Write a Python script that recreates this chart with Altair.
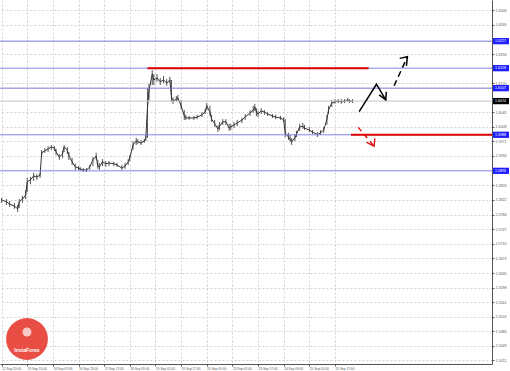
import altair as alt
import pandas as pd

# ---------------- data (hourly bars, GBP/USD style chart) ----------------
bar_idx = [0, 3, 5, 8, 10, 11, 13, 15, 16, 18, 20, 22, 24,
           25, 27, 29, 31, 33, 34, 36, 38, 39, 41, 42, 44, 46, 48, 49, 51, 53, 55, 57, 59, 60, 61, 63, 65,
           67, 70, 72, 75, 77, 79, 80, 82, 84, 85, 87, 89, 90,
           91, 92, 94, 95, 97, 99, 101, 103, 105, 106, 107, 109, 110, 112, 114, 115, 117, 120, 122, 125,
           127, 128, 130, 131, 133, 135, 136, 138, 140, 142, 143, 145, 147, 150, 152, 155, 157, 158, 159,
           160, 162, 164, 166, 169, 171, 174, 176, 177, 179, 180, 181, 183, 184, 186, 188, 189, 192, 194,
           197, 199, 201, 203, 204, 206, 208, 210, 212, 214, 216, 217, 219]
close = [1.5822, 1.5817, 1.5811, 1.5806, 1.5799, 1.5817, 1.5824, 1.5834, 1.5868, 1.5873, 1.5883, 1.5880, 1.5885,
         1.5942, 1.5947, 1.5952, 1.5957, 1.5954, 1.5944, 1.5931, 1.5939, 1.5957, 1.5949, 1.5934, 1.5919, 1.5906,
         1.5903, 1.5901, 1.5898, 1.5898, 1.5906, 1.5924, 1.5934, 1.5908, 1.5906, 1.5919, 1.5914,
         1.5916, 1.5914, 1.5911, 1.5903, 1.5908, 1.5919, 1.5929, 1.5962, 1.5972, 1.5970, 1.5967, 1.5972, 1.5980,
         1.6056, 1.6102, 1.6143, 1.6128, 1.6133, 1.6123, 1.6128, 1.6120, 1.6128, 1.6082, 1.6074, 1.6079, 1.6082,
         1.6062, 1.6036, 1.6031, 1.6031, 1.6031, 1.6033, 1.6039,
         1.6046, 1.6062, 1.6046, 1.6028, 1.6016, 1.6003, 1.6010, 1.6021, 1.6021, 1.6005, 1.6008, 1.6013, 1.6018,
         1.6026, 1.6033, 1.6044, 1.6051, 1.6059, 1.6046,
         1.6041, 1.6049, 1.6046, 1.6041, 1.6036, 1.6033, 1.6031, 1.6026, 1.5993, 1.5982, 1.5977, 1.5970, 1.5980,
         1.5990, 1.6008, 1.6010, 1.6005, 1.6000, 1.5995,
         1.5988, 1.5993, 1.6000, 1.6028, 1.6051, 1.6069, 1.6072, 1.6074, 1.6072, 1.6074, 1.6077, 1.6074, 1.6074]
high = [1.5827, 1.5824, 1.5819, 1.5814, 1.5809, 1.5824, 1.5832, 1.5847, 1.5878, 1.5880, 1.5891, 1.5888, 1.5891,
        1.5949, 1.5954, 1.5959, 1.5962, 1.5959, 1.5952, 1.5939, 1.5947, 1.5962, 1.5957, 1.5944, 1.5929, 1.5914,
        1.5908, 1.5906, 1.5903, 1.5903, 1.5911, 1.5931, 1.5942, 1.5924, 1.5916, 1.5926, 1.5921,
        1.5921, 1.5919, 1.5916, 1.5911, 1.5916, 1.5926, 1.5936, 1.5972, 1.5980, 1.5977, 1.5975, 1.5977, 1.5990,
        1.6107, 1.6118, 1.6153, 1.6143, 1.6143, 1.6133, 1.6138, 1.6130, 1.6136, 1.6128, 1.6084, 1.6087, 1.6090,
        1.6077, 1.6051, 1.6039, 1.6036, 1.6036, 1.6039, 1.6046,
        1.6054, 1.6069, 1.6062, 1.6039, 1.6026, 1.6013, 1.6021, 1.6028, 1.6028, 1.6016, 1.6016, 1.6021, 1.6026,
        1.6031, 1.6041, 1.6051, 1.6062, 1.6067, 1.6056,
        1.6049, 1.6056, 1.6051, 1.6046, 1.6041, 1.6039, 1.6036, 1.6033, 1.6028, 1.5993, 1.5988, 1.5980, 1.5990,
        1.5998, 1.6016, 1.6018, 1.6013, 1.6008, 1.6000,
        1.5995, 1.6000, 1.6008, 1.6039, 1.6062, 1.6077, 1.6079, 1.6079, 1.6079, 1.6079, 1.6082, 1.6079, 1.6079]
low = [1.5814, 1.5809, 1.5804, 1.5799, 1.5791, 1.5801, 1.5814, 1.5824, 1.5842, 1.5862, 1.5870, 1.5873, 1.5878,
       1.5934, 1.5942, 1.5944, 1.5949, 1.5947, 1.5936, 1.5924, 1.5929, 1.5944, 1.5939, 1.5924, 1.5911, 1.5898,
       1.5898, 1.5896, 1.5893, 1.5893, 1.5898, 1.5908, 1.5924, 1.5901, 1.5898, 1.5908, 1.5906,
       1.5908, 1.5908, 1.5906, 1.5898, 1.5901, 1.5911, 1.5921, 1.5949, 1.5962, 1.5965, 1.5962, 1.5967, 1.5972,
       1.5980, 1.6077, 1.6115, 1.6115, 1.6123, 1.6115, 1.6120, 1.6113, 1.6120, 1.6072, 1.6067, 1.6072, 1.6074,
       1.6054, 1.6026, 1.6026, 1.6026, 1.6026, 1.6028, 1.6033,
       1.6041, 1.6051, 1.6036, 1.6021, 1.6008, 1.5995, 1.6000, 1.6013, 1.6013, 1.5998, 1.6000, 1.6005, 1.6010,
       1.6018, 1.6026, 1.6036, 1.6044, 1.6049, 1.6036,
       1.6033, 1.6041, 1.6039, 1.6036, 1.6031, 1.6028, 1.6026, 1.6021, 1.5982, 1.5975, 1.5970, 1.5962, 1.5972,
       1.5982, 1.5998, 1.6003, 1.6000, 1.5995, 1.5990,
       1.5982, 1.5988, 1.5993, 1.6013, 1.6041, 1.6059, 1.6067, 1.6069, 1.6067, 1.6069, 1.6072, 1.6069, 1.6069]

x_tick_values = [0, 16, 32, 48, 64, 80, 96, 112, 128, 144, 160, 176, 192, 208]
x_tick_labels = ["12 Sep 23:00", "13 Sep 15:00", "16 Sep 07:00", "16 Sep 23:00", "17 Sep 17:00",
                 "18 Sep 09:00", "19 Sep 01:00", "19 Sep 17:00", "20 Sep 09:00", "23 Sep 01:00",
                 "23 Sep 17:00", "24 Sep 09:00", "25 Sep 01:00", "25 Sep 17:00"]
y_tick_values = [1.6306, 1.6269, 1.6194, 1.6120, 1.6045, 1.6008, 1.5971, 1.5934,
                 1.5859, 1.5822, 1.5784, 1.5747, 1.5710, 1.5673, 1.5635, 1.5598, 1.5561, 1.5524,
                 1.5486, 1.5449, 1.5412]

level_prices = [1.6227, 1.6158, 1.6107, 1.5988, 1.5896]
level_colors = ["#7a7ad8", "#8484ee", "#7a7ad8", "#8484ee", "#8484ee"]
current_price = 1.6074
red_start = [91, 218]
red_end = [229, 306]
red_price = [1.6158, 1.5988]

# scenario arrows (bar index, price)
solid_x = [223.1, 233.9, 239.7]
solid_p = [1.6047, 1.6117, 1.6077]
solid_head_x = [235.6, 239.7, 240.1]
solid_head_p = [1.6090, 1.6077, 1.6098]
dash_x = [244.9, 253.2]
dash_p = [1.6113, 1.6187]
dash_head_x = [248.4, 253.2, 252.6]
dash_head_p = [1.6183, 1.6187, 1.6164]
red_dash_x = [222.5, 232.4]
red_dash_p = [1.6007, 1.5959]
red_head_x = [227.6, 232.4, 232.9]
red_head_p = [1.5969, 1.5959, 1.5979]

# ---------------- chart ----------------
W, H = 492, 364
X_DOMAIN = [-1, 306]
Y_DOMAIN = [1.5403, 1.6332]

label_expr = "[" + ",".join("'%s'" % s for s in x_tick_labels) + "][round(datum.value/16)]"

x_axis = alt.Axis(values=x_tick_values, labelExpr=label_expr, grid=True, gridDash=[2, 2],
                  gridColor="#d2d2d2", gridWidth=1, labelFontSize=3.2, labelFont="Liberation Sans",
                  labelColor="#555555", labelAlign="left", labelBaseline="top", labelPadding=0,
                  tickSize=2, tickColor="#555555", domainColor="#555555", labelOverlap=False,
                  labelFlush=False, title=None)
y_axis = alt.Axis(values=y_tick_values, format=".4f", orient="right", grid=True, gridDash=[2, 2],
                  gridColor="#d2d2d2", gridWidth=1, labelFontSize=3.6, labelFont="Liberation Sans",
                  labelColor="#555555", labelPadding=1, tickSize=2, tickColor="#555555",
                  domainColor="#555555", labelOverlap=False, labelFlush=False, title=None)


def X(field):
    return alt.X(field, type="quantitative", scale=alt.Scale(domain=X_DOMAIN, nice=False, zero=False),
                 axis=x_axis)


def Y(field):
    return alt.Y(field, type="quantitative", scale=alt.Scale(domain=Y_DOMAIN, nice=False, zero=False),
                 axis=y_axis)


bars_df = pd.DataFrame({"b": bar_idx, "c": close, "h": high, "l": low})

bar_rules = alt.Chart(bars_df).mark_rule(strokeWidth=1, color="#555555").encode(
    x=X("b"), y=Y("l"), y2="h")
close_line = alt.Chart(bars_df).mark_line(strokeWidth=1, color="#333333").encode(
    x=X("b"), y=Y("c"))

levels_df = pd.DataFrame({"p": level_prices, "col": level_colors})
level_rules = alt.Chart(levels_df).mark_rule(strokeWidth=1).encode(
    y=Y("p"), color=alt.Color("col:N", scale=None))

cur_df = pd.DataFrame({"p": [current_price]})
cur_rule = alt.Chart(cur_df).mark_rule(color="#c4c4c4", strokeWidth=1).encode(y=Y("p"))

red_df = pd.DataFrame({"s": red_start, "e": red_end, "p": red_price})
red_rules = alt.Chart(red_df).mark_rule(color="#e00000", strokeWidth=2).encode(
    x=X("s"), x2="e", y=Y("p"))


def path_df(xs, ps):
    return pd.DataFrame({"b": xs, "p": ps, "o": list(range(len(xs)))})


def path_layer(xs, ps, color, dash=None, width=1.5):
    kw = dict(color=color, strokeWidth=width)
    if dash:
        kw["strokeDash"] = dash
    return alt.Chart(path_df(xs, ps)).mark_line(**kw).encode(
        x=X("b"), y=Y("p"), order="o:Q")


arrows = [
    path_layer(solid_x, solid_p, "#000000"),
    path_layer(solid_head_x, solid_head_p, "#000000"),
    path_layer(dash_x, dash_p, "#000000", dash=[6, 4]),
    path_layer(dash_head_x, dash_head_p, "#000000"),
    path_layer(red_dash_x, red_dash_p, "#e00000", dash=[5, 4], width=1.3),
    path_layer(red_head_x, red_head_p, "#e00000", width=1.3),
]

# price tags on the right axis
tag_df = pd.DataFrame({"p": level_prices})
tag_rect = alt.Chart(tag_df).mark_rect(color="#1f1fff").transform_calculate(
    lo="datum.p - 0.0008", hi="datum.p + 0.0008").encode(
    x=alt.value(W + 1), x2=alt.value(W + 17), y=Y("lo"), y2="hi")
tag_text = alt.Chart(tag_df).mark_text(color="white", fontSize=3.6, font="Liberation Sans",
                                       align="left", baseline="middle").encode(
    x=alt.value(W + 3), y=Y("p"), text=alt.Text("p:Q", format=".4f"))
cur_rect = alt.Chart(cur_df).mark_rect(color="#000000").transform_calculate(
    lo="datum.p - 0.0008", hi="datum.p + 0.0008").encode(
    x=alt.value(W + 1), x2=alt.value(W + 17), y=Y("lo"), y2="hi")
cur_text = alt.Chart(cur_df).mark_text(color="white", fontSize=3.6, font="Liberation Sans",
                                       align="left", baseline="middle").encode(
    x=alt.value(W + 3), y=Y("p"), text=alt.Text("p:Q", format=".4f"))

# watermark logo
logo_df = pd.DataFrame({"t": ["InstaForex"]})
logo_outer = alt.Chart(logo_df).mark_point(shape="circle", filled=True, color="#e8443a",
                                           opacity=0.95, size=1750).encode(
    x=alt.value(27), y=alt.value(339))
logo_icon = alt.Chart(logo_df).mark_point(shape="circle", filled=True, color="white",
                                          size=80).encode(x=alt.value(27), y=alt.value(332))
logo_text = alt.Chart(logo_df).mark_text(color="white", fontSize=5, font="Liberation Sans",
                                         fontWeight="bold").encode(
    x=alt.value(27), y=alt.value(350), text="t:N")

chart = alt.layer(
    bar_rules, close_line, level_rules, cur_rule, red_rules, *arrows,
    tag_rect, tag_text, cur_rect, cur_text, logo_outer, logo_icon, logo_text
).properties(
    width=W, height=H,
    autosize=alt.AutoSizeParams(type="none"),
    padding={"left": 0, "top": 0, "right": 18, "bottom": 7},
    background="white",
).configure_view(stroke="transparent")

chart.save("out.html", embed_options={"renderer": "svg", "actions": False})
